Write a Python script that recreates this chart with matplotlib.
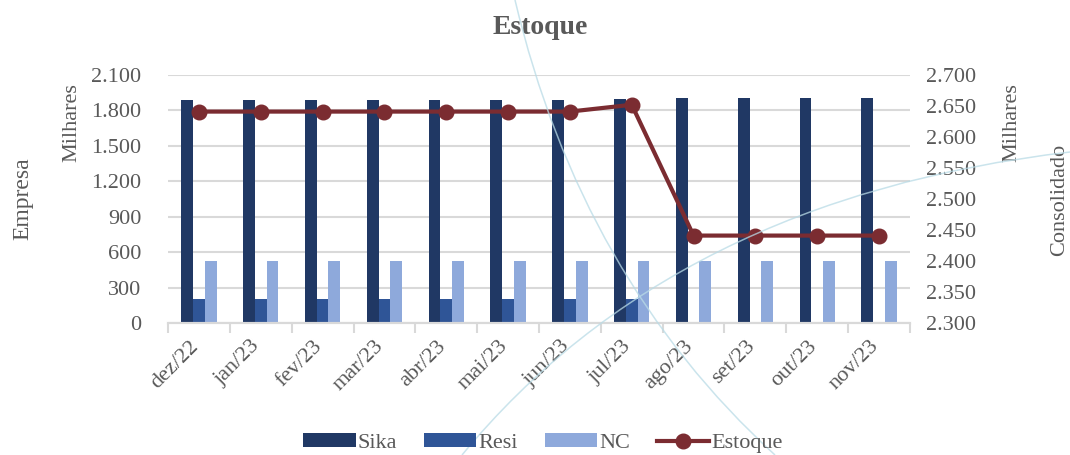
import numpy as np
import matplotlib
matplotlib.use("Agg")
import matplotlib.pyplot as plt
import matplotlib.transforms as mtransforms
from matplotlib.path import Path
from matplotlib.patches import PathPatch

meses = ["dez/22", "jan/23", "fev/23", "mar/23", "abr/23", "mai/23",
         "jun/23", "jul/23", "ago/23", "set/23", "out/23", "nov/23"]
sika = [1890, 1890, 1890, 1890, 1890, 1890, 1890, 1897, 1906, 1906, 1906, 1906]
resi = [206, 206, 206, 206, 206, 206, 206, 206, 0, 0, 0, 0]
nc = [528, 528, 528, 528, 528, 528, 528, 528, 528, 528, 528, 528]
estoque = [2641, 2641, 2641, 2641, 2641, 2641, 2641, 2652, 2441, 2441, 2441, 2441]

cinza = "#595959"
plt.rcParams["font.family"] = ["Liberation Serif", "DejaVu Serif"]

fig = plt.figure(figsize=(10.7, 4.55), dpi=100)
ax = fig.add_axes([168 / 1070, 1 - 323 / 455, (910 - 168) / 1070, (323 - 75) / 455])
ax2 = ax.twinx()

x = np.arange(len(meses))
w = 0.19
b1 = ax.bar(x - w, sika, w, color="#203864", label="Sika", zorder=2)
b2 = ax.bar(x, resi, w, color="#2F5597", label="Resi", zorder=2)
b3 = ax.bar(x + w, nc, w, color="#8EA9DB", label="NC", zorder=2)
l1, = ax2.plot(x, estoque, color="#7B2C31", lw=3, marker="o", ms=10.5, label="Estoque", zorder=3)

ax.set_xlim(-0.5, len(meses) - 0.5)
ax.set_ylim(0, 2100)
ax.set_yticks(range(0, 2101, 300))
ax.set_yticklabels([f"{v:,}".replace(",", ".") for v in range(0, 2101, 300)])
ax2.set_ylim(2300, 2700)
ax2.set_yticks(range(2300, 2701, 50))
ax2.set_yticklabels([f"{v:,}".replace(",", ".") for v in range(2300, 2701, 50)])

ax.grid(axis="y", color="#d9d9d9", lw=1.5, zorder=0)
ax.set_axisbelow(True)
for a in (ax, ax2):
    for s in ("left", "right", "top"):
        a.spines[s].set_visible(False)
    a.spines["bottom"].set_color("#d9d9d9")
    a.spines["bottom"].set_linewidth(1.5)
    a.tick_params(axis="y", length=0, labelsize=16, labelcolor=cinza)
ax.tick_params(axis="y", pad=19)
ax2.tick_params(axis="y", pad=11.5)

ax.set_xticks(x)
ax.set_xticklabels(meses, rotation=45, ha="right", rotation_mode="anchor", fontsize=16, color=cinza)
ax.tick_params(axis="x", which="major", length=0, pad=10)
ax.set_xticks(np.arange(-0.5, len(meses), 1), minor=True)
ax.tick_params(axis="x", which="minor", length=7, width=1.5, color="#d9d9d9")
desloc = mtransforms.ScaledTranslation(-10 / 100, 0, fig.dpi_scale_trans)
for lab in ax.get_xticklabels():
    lab.set_transform(lab.get_transform() + desloc)

fig.text(540 / 1070, 1 - 27 / 455, "Estoque", ha="center", va="center", fontsize=20,
         fontweight="bold", color=cinza)
fig.text(72 / 1070, 1 - 123 / 455, "Milhares", rotation=90, ha="center", va="center", fontsize=16, color=cinza)
fig.text(23 / 1070, 1 - 199 / 455, "Empresa", rotation=90, ha="center", va="center", fontsize=17, color=cinza)
fig.text(1012 / 1070, 1 - 123 / 455, "Milhares", rotation=90, ha="center", va="center", fontsize=16, color=cinza)
fig.text(1060 / 1070, 1 - 200 / 455, "Consolidado", rotation=90, ha="center", va="center", fontsize=16, color=cinza)

fig.legend([b1, b2, b3, l1], ["Sika", "Resi", "NC", "Estoque"], loc="center",
           bbox_to_anchor=(543 / 1070, 1 - 443 / 455), ncol=4, frameon=False, fontsize=16,
           handlelength=2.35, handleheight=0.6, columnspacing=1.2, handletextpad=0.1,
           labelcolor=cinza)

# arcos decorativos do fundo (coordenadas em pixels da imagem)
arcos = [[(515, 0), (581, 278), (775, 455)],
         [(462, 455), (674, 198), (1070, 152)]]
for pts in arcos:
    verts = [(px / 1070, 1 - py / 455) for px, py in pts]
    p = Path(verts, [Path.MOVETO, Path.CURVE3, Path.CURVE3])
    fig.add_artist(PathPatch(p, fill=False, edgecolor="#b9dbe6", lw=1.1, alpha=0.75,
                             transform=fig.transFigure, zorder=5))

fig.savefig("out.png", dpi=100)
